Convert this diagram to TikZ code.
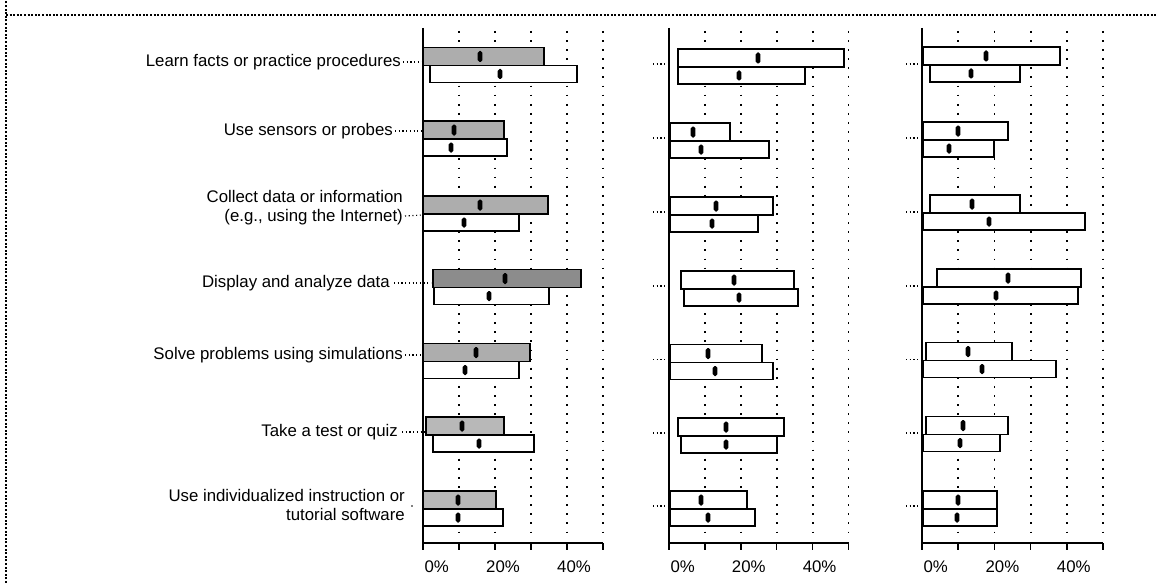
\documentclass[tikz,border=0pt]{standalone}
\usepackage{fontspec}
\setmainfont{Liberation Sans}
\definecolor{stipA}{gray}{0.68}
\definecolor{stipB}{gray}{0.55}
\definecolor{stipC}{gray}{0.72}
\newcommand{\upbar}[5]{%
  \draw[barbox,fill=#5] (#1,#4-18) rectangle (#2,#4);
  \fill[rounded corners=1.8pt] (#3-2.3,#4-14.5) rectangle (#3+2.3,#4-3.5);}
\newcommand{\lowbar}[5]{%
  \draw[barbox,fill=#5] (#1,#4) rectangle (#2,#4+17);
  \fill[rounded corners=1.8pt] (#3-2.3,#4+3.5) rectangle (#3+2.3,#4+13.5);}
\begin{document}
\begin{tikzpicture}[x=1pt,y=-1pt,
  lbl/.style={font=\fontsize{16.8}{19}\selectfont, align=right, anchor=east, inner sep=0pt},
  ticklbl/.style={font=\fontsize{16.8}{19}\selectfont, anchor=east, inner sep=0pt},
  leader/.style={line width=1.1pt, dash pattern=on 1.1pt off 2.6pt},
  gridline/.style={line width=1.8pt, dash pattern=on 1.8pt off 7.3pt},
  frameline/.style={line width=1.1pt, dash pattern=on 2pt off 1.6pt},
  barbox/.style={draw=black, line width=1.8pt},
  axisline/.style={line width=1.5pt}]
\useasboundingbox (0,0) rectangle (1158,583);
% frame
\draw[frameline] (6,583) -- (6,0);
\draw[frameline] (6,15) -- (1158,15);
% panels
\foreach \p/\s/\n in {423/36/a, 669/35.9/b, 922/36.2/c}{
  \foreach \k in {1,...,5}
    \draw[gridline] (\p+\k*\s,31) -- (\p+\k*\s,537);
  \draw[axisline] (\p,28) -- (\p,543) -- (\p+5*\s,543);
  \foreach \k in {0,...,5}
    \draw[axisline] (\p+\k*\s,543) -- ++(0,7);
  \node[ticklbl] (t\n0) at (\p+26,567) {0\%};
  \node[ticklbl] (t\n2) at (\p+2*\s+25,567) {20\%};
  \node[ticklbl] (t\n4) at (\p+4*\s+24,567) {40\%};
}
% ---------- panel 1 (shaded upper bars) ----------
\lowbar{430}{577}{500}{65.5}{white}
\upbar{423}{544}{480}{65.5}{stipA}
\lowbar{423}{507}{451}{139}{white}
\upbar{423}{504}{454}{139}{stipA}
\lowbar{423}{519}{464}{214}{white}
\upbar{423}{548}{480}{214}{stipA}
\lowbar{434}{549}{489}{287.5}{white}
\upbar{433}{581}{505}{287.5}{stipB}
\lowbar{423}{519}{465}{361.5}{white}
\upbar{423}{530}{476}{361.5}{stipA}
\lowbar{433}{534}{479}{435}{white}
\upbar{426}{504}{462}{435}{stipC}
\lowbar{423}{503}{458}{509}{white}
\upbar{423}{496}{458}{509}{stipC}
% ---------- panel 2 ----------
\lowbar{678}{805}{739}{67}{white}
\upbar{678}{844}{758}{67}{white}
\lowbar{670}{769}{701}{141}{white}
\upbar{670}{730}{693}{141}{white}
\lowbar{670}{758}{712}{215}{white}
\upbar{670}{773}{716}{215}{white}
\lowbar{684}{798}{739}{289}{white}
\upbar{681}{794}{734}{289}{white}
\lowbar{670}{773}{715}{362.5}{white}
\upbar{670}{762}{708}{362.5}{white}
\lowbar{681}{777}{726}{436}{white}
\upbar{678}{784}{726}{436}{white}
\lowbar{670}{755}{708}{509}{white}
\upbar{670}{747}{701}{509}{white}
% ---------- panel 3 ----------
\lowbar{930}{1020}{971}{65}{white}
\upbar{923}{1060}{986}{65}{white}
\lowbar{923}{994}{949}{140}{white}
\upbar{923}{1008}{958}{140}{white}
\lowbar{923}{1085}{989}{213}{white}
\upbar{930}{1020}{972}{213}{white}
\lowbar{923}{1078}{996}{287}{white}
\upbar{937}{1081}{1008}{287}{white}
\lowbar{923}{1056}{982}{360.5}{white}
\upbar{926}{1012}{968}{360.5}{white}
\lowbar{923}{1000}{960}{434.5}{white}
\upbar{926}{1008}{963}{434.5}{white}
\lowbar{923}{997}{957}{509}{white}
\upbar{923}{997}{958}{509}{white}
% ---------- row labels ----------
\node[lbl] (L1) at (401,62) {Learn facts or practice procedures};
\node[lbl] (L2) at (393,131) {Use sensors or probes};
\node[lbl] (L3) at (403,208) {Collect data or information\\(e.g., using the Internet)};
\node[lbl] (L4) at (390,283) {Display and analyze data};
\node[lbl] (L5) at (403,355) {Solve problems using simulations};
\node[lbl] (L6) at (398,432) {Take a test or quiz};
\node[lbl] (L7) at (405,505) {Use individualized instruction or\\tutorial software\hspace{15pt}};
% leader ends at the first axis
\coordinate (e1) at (422,62);
\coordinate (e2) at (422,131);
\coordinate (e3) at (422,215);
\coordinate (e4) at (431,283);
\coordinate (e5) at (422,355);
\coordinate (e6) at (425,432);
\draw[leader] ([xshift=2pt]L1.east) -- (e1);
\draw[leader] ([xshift=2pt]L2.east) -- (e2);
\draw[leader] ([xshift=2pt,yshift=-8pt]L3.east) -- (e3);
\draw[leader] ([xshift=4pt]L4.east) -- (e4);
\draw[leader] ([xshift=2pt]L5.east) -- (e5);
\draw[leader] ([xshift=4pt]L6.east) -- (e6);
\coordinate (e7) at (412,506);
\fill (e7) circle (0.8);
% short leaders in panels 2 and 3
\foreach \yy in {64,138,212,286,359.5,433,506}{
  \coordinate (lb) at (653,\yy);
  \draw[leader] (lb) -- ++(12,0);
  \coordinate (lc) at (906,\yy);
  \draw[leader] (lc) -- ++(12,0);
}
\end{tikzpicture}
\end{document}
